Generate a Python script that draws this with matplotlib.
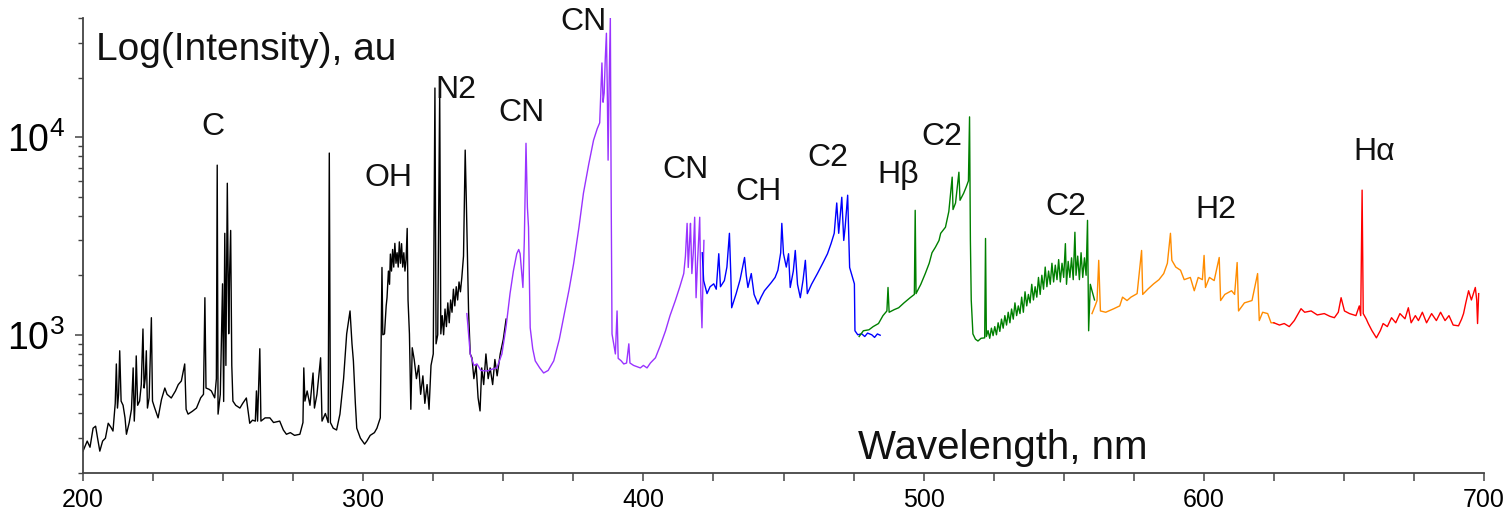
import matplotlib
matplotlib.use("Agg")
import matplotlib.pyplot as plt
from matplotlib.ticker import MultipleLocator, FixedLocator, FixedFormatter, LogLocator, NullFormatter

plt.rcParams['font.family'] = ['Liberation Sans', 'DejaVu Sans']

# ── spectrum segments (wavelength nm, intensity au) ──────────────────────────
wl_black = [200.0, 201.5, 202.5, 203.6, 204.5, 205.2, 206.0, 207.0, 208.0, 209.0,
            210.0, 210.7, 211.5, 211.9, 212.3, 212.7, 213.1, 213.6, 214.3, 215.0,
            215.5, 216.5, 217.3, 217.9, 218.3, 218.7, 219.0, 219.5, 220.2, 220.8,
            221.4, 221.8, 222.2, 222.6, 223.0, 223.6, 224.4, 224.8, 225.5, 226.8,
            228.0, 229.2, 230.0, 231.5, 233.0, 234.0, 235.1, 236.3, 236.8, 237.5,
            239.0, 240.5, 242.0, 243.0, 243.5, 243.9, 245.0, 245.8, 247.0, 247.6,
            247.9, 248.2, 249.0, 249.8, 250.2, 250.6, 251.0, 251.5, 252.0, 252.3,
            252.7, 253.1, 253.5, 254.5, 256.0, 257.0, 258.3, 259.5, 260.5, 261.5,
            261.9, 262.3, 263.1, 263.5, 265.0, 266.7, 268.0, 270.2, 271.5, 272.6,
            274.0, 275.5, 277.4, 278.5, 278.8, 279.2, 280.0, 281.0, 282.1, 282.6,
            283.5, 284.8, 285.3, 286.5, 287.5, 287.9, 288.3, 289.3, 290.5, 291.7,
            293.0, 294.1, 295.3, 296.0, 296.5, 297.2, 297.7, 299.0, 300.5, 301.3,
            302.5, 304.0, 304.9, 306.1, 306.7, 307.0, 307.6, 308.2, 308.5, 309.0,
            309.4, 309.7, 310.1, 310.5, 310.9, 311.3, 311.7, 312.1, 312.5, 312.9,
            313.3, 313.7, 314.1, 314.5, 314.9, 315.3, 315.7, 316.0, 316.5, 317.0,
            317.5, 318.2, 319.0, 319.8, 320.5, 321.3, 322.0, 322.8, 323.5, 324.2,
            325.0, 325.6, 326.0, 326.6, 327.3, 327.7, 328.2, 328.7, 329.2, 329.7,
            330.2, 330.7, 331.2, 331.7, 332.2, 332.7, 333.2, 333.7, 334.2, 334.7,
            335.2, 335.8, 336.4, 336.8, 337.6, 338.2, 338.8, 339.5, 340.3, 341.0,
            341.7, 342.3, 343.0, 343.8, 344.6, 345.3, 346.2, 347.0, 347.8, 348.9,
            350.0, 351.0]
int_black = [258, 290, 270, 337, 345, 300, 258, 290, 300, 357,
             340, 326, 450, 712, 426, 500, 830, 462, 440, 380,
             314, 360, 420, 680, 366, 500, 782, 440, 462, 560,
             1070, 538, 600, 830, 426, 480, 1220, 462, 430, 380,
             470, 538, 500, 479, 520, 560, 584, 712, 420, 397,
             410, 426, 480, 500, 1540, 538, 530, 520, 480, 600,
             7210, 397, 500, 1810, 460, 3260, 700, 5840, 1012, 2000,
             3370, 700, 462, 440, 426, 450, 479, 357, 370, 366,
             520, 366, 850, 366, 380, 380, 360, 366, 330, 314,
             320, 310, 314, 360, 680, 462, 520, 440, 641, 426,
             500, 765, 366, 400, 360, 8300, 360, 337, 330, 397,
             600, 1010, 1320, 900, 738, 450, 337, 300, 280, 290,
             310, 320, 337, 380, 2190, 1000, 1010, 1400, 1540, 2100,
             1800, 2560, 2100, 2700, 2200, 2900, 2300, 2600, 2200, 2950,
             2300, 2890, 2200, 2600, 2100, 2400, 3450, 1500, 1010, 420,
             860, 750, 600, 700, 500, 620, 450, 560, 420, 700,
             800, 17700, 900, 1000, 17300, 1010, 1250, 1000, 1350, 1100,
             1450, 1150, 1500, 1300, 1700, 1400, 1750, 1500, 1850, 1650,
             1950, 2500, 8590, 4790, 1320, 800, 765, 600, 700, 480,
             412, 680, 560, 800, 600, 680, 560, 750, 620, 800,
             950, 1200]

wl_purple = [337.0, 338.2, 339.5, 340.6, 342.0, 344.2, 346.0, 347.7, 349.5, 351.0,
             352.4, 353.6, 354.8, 355.5, 356.0, 357.0, 357.5, 358.1, 358.6, 359.0,
             359.6, 360.5, 361.4, 363.0, 364.4, 366.0, 368.0, 370.0, 371.5, 373.5,
             375.1, 377.0, 378.6, 380.5, 382.2, 383.5, 384.4, 385.2, 385.6, 386.0,
             386.4, 386.8, 387.1, 387.4, 387.8, 388.2, 388.5, 388.8, 389.4, 390.0,
             390.6, 391.0, 392.0, 393.0, 394.0, 394.8, 395.2, 396.5, 398.9, 400.0,
             401.3, 402.5, 404.3, 406.0, 407.9, 409.5, 411.4, 413.0, 414.4, 415.0,
             415.6, 416.0, 416.5, 416.8, 417.3, 417.8, 418.3, 418.8, 419.3, 420.1,
             420.5, 420.9, 421.3, 421.6]
int_purple = [1280, 800, 700, 712, 660, 656, 670, 680, 800, 1100,
              1615, 2100, 2570, 2700, 2570, 1735, 3000, 9300, 4420, 3500,
              1085, 850, 738, 680, 641, 660, 738, 950, 1220, 1700,
              2290, 3500, 5200, 7300, 9630, 11000, 11800, 23700, 15000, 16700,
              25000, 33500, 18000, 7640, 20000, 40000, 5000, 1010, 900, 800,
              1320, 760, 740, 712, 720, 900, 720, 700, 680, 700,
              680, 720, 765, 880, 1048, 1250, 1490, 1750, 2040, 2500,
              3660, 2190, 3000, 3660, 2040, 2600, 3930, 1540, 2300, 3930,
              1600, 1085, 2000, 3000]

wl_blue = [421.0, 421.5, 422.7, 423.8, 425.1, 426.0, 426.9, 427.5, 428.9, 429.8,
           430.7, 431.2, 431.5, 433.1, 434.5, 436.1, 436.7, 437.3, 438.5, 439.5,
           440.9, 442.0, 443.2, 444.4, 445.6, 447.0, 448.0, 449.0, 449.4, 450.0,
           451.0, 451.8, 452.4, 453.5, 454.2, 455.0, 456.0, 457.0, 457.8, 458.5,
           460.0, 462.1, 464.0, 465.7, 467.0, 468.1, 469.0, 469.7, 470.8, 471.5,
           472.0, 472.9, 473.6, 475.3, 475.5, 476.5, 477.9, 479.0, 480.0, 481.5,
           482.5, 483.5, 484.5]
int_blue = [2600, 1880, 1615, 1750, 1810, 1700, 2570, 1750, 1880, 2200,
            3260, 2000, 1370, 1615, 1900, 2460, 2000, 1735, 2040, 1600,
            1430, 1550, 1670, 1750, 1835, 1950, 2120, 2600, 3660, 2570,
            2200, 2570, 1735, 2100, 2670, 1800, 1540, 1900, 2380, 1615,
            1800, 2040, 2300, 2570, 2900, 3260, 4640, 3260, 4960, 3000,
            3500, 5080, 2190, 1810, 1048, 1000, 1012, 980, 1020, 1000,
            970, 1010, 995]

wl_green = [477.0, 478.5, 480.5, 482.0, 483.9, 485.5, 486.9, 487.3, 487.7, 489.5,
            491.1, 493.0, 495.2, 496.7, 497.0, 497.3, 499.0, 500.6, 502.0, 503.0,
            504.2, 505.5, 506.1, 507.8, 509.0, 510.2, 510.5, 511.4, 512.6, 513.0,
            514.3, 515.2, 516.0, 516.4, 516.7, 517.0, 517.6, 518.5, 519.4, 520.5,
            521.8, 522.1, 522.4, 523.0, 523.6, 524.2, 524.8, 525.4, 526.0, 526.6,
            527.2, 527.8, 528.4, 529.0, 529.6, 530.2, 530.8, 531.4, 532.0, 532.6,
            533.2, 533.8, 534.4, 535.0, 535.6, 536.2, 536.8, 537.4, 538.0, 538.6,
            539.2, 539.8, 540.4, 541.0, 541.6, 542.2, 542.8, 543.4, 544.0, 544.6,
            545.2, 545.8, 546.4, 547.0, 547.6, 548.2, 548.8, 549.4, 550.0, 550.6,
            551.0, 551.6, 552.2, 552.8, 553.4, 554.0, 554.4, 555.0, 555.6, 556.2,
            556.8, 557.4, 558.0, 558.5, 558.9, 559.5, 560.1, 561.0]
int_green = [980, 1048, 1060, 1100, 1140, 1250, 1320, 1735, 1300, 1340,
             1370, 1450, 1540, 1600, 4260, 1615, 1800, 2040, 2300, 2600,
             2770, 3000, 3260, 3500, 4200, 6270, 4300, 4640, 6640, 4790,
             5200, 5590, 6000, 12650, 3000, 1500, 1010, 950, 930, 960,
             965, 3070, 980, 1050, 960, 1080, 990, 1100, 1000, 1150,
             1040, 1200, 1080, 1250, 1120, 1300, 1150, 1350, 1200, 1450,
             1250, 1400, 1280, 1550, 1300, 1650, 1400, 1600, 1450, 1800,
             1500, 1750, 1550, 1950, 1600, 2000, 1700, 2200, 1750, 2100,
             1800, 2300, 1850, 2250, 1900, 2400, 1850, 2300, 1950, 2890,
             1800, 2350, 1950, 2450, 1900, 3300, 2000, 2500, 1900, 2600,
             1950, 2450, 2000, 3790, 1048, 1800, 1670, 1500]

wl_orange = [560.1, 561.2, 561.9, 562.5, 563.1, 565.0, 567.9, 570.0, 571.0, 572.6,
             574.0, 576.2, 577.8, 578.2, 580.0, 582.1, 584.0, 585.7, 587.0, 588.1,
             588.6, 590.0, 591.7, 593.0, 595.2, 596.6, 598.0, 599.5, 600.1, 600.6,
             602.0, 603.7, 605.5, 606.0, 607.5, 609.9, 611.0, 611.9, 612.4, 614.5,
             617.2, 619.2, 619.8, 621.0, 622.8, 624.0, 625.0]
int_orange = [1280, 1400, 1490, 2380, 1320, 1300, 1355, 1400, 1550, 1490,
              1550, 1615, 2670, 1600, 1700, 1810, 1900, 2040, 2300, 3260,
              2380, 2200, 2120, 1900, 1950, 1670, 1950, 1900, 2520, 1735,
              1950, 1880, 2460, 1490, 1600, 1670, 1600, 2320, 1320, 1450,
              1490, 2040, 1180, 1300, 1280, 1150, 1150]

wl_red = [625.0, 627.0, 628.7, 630.5, 632.3, 634.7, 636.0, 638.3, 640.5, 643.0,
          645.0, 646.6, 648.0, 649.0, 650.2, 652.0, 654.3, 655.5, 656.0, 656.5,
          656.9, 658.0, 658.7, 660.0, 661.6, 663.0, 664.0, 665.5, 667.0, 668.5,
          670.0, 671.8, 673.0, 674.0, 675.5, 676.6, 678.0, 679.5, 681.3, 683.0,
          684.5, 686.1, 687.5, 689.0, 690.9, 692.0, 692.7, 693.5, 694.5, 695.5,
          696.9, 697.4, 697.7, 698.1]
int_red = [1150, 1120, 1140, 1100, 1180, 1355, 1300, 1320, 1260, 1280,
           1240, 1220, 1300, 1540, 1320, 1280, 1250, 1400, 1250, 5390,
           1280, 1200, 1140, 1050, 965, 1050, 1140, 1100, 1220, 1150,
           1280, 1205, 1370, 1150, 1250, 1180, 1300, 1150, 1280, 1180,
           1300, 1180, 1250, 1120, 1110, 1200, 1280, 1450, 1670, 1500,
           1735, 1500, 1140, 1615]

# ── band labels ──────────────────────────────────────────────────────────────
label_text = ["C", "OH", "N2", "CN", "CN", "CN", "CH", "C2", "H\u03b2", "C2", "C2", "H2", "H\u03b1"]
label_wl   = [246.4, 308.9, 333.2, 356.4, 378.6, 415.0, 441.0, 466.0, 491.0, 506.4, 550.7, 604.3, 660.7]
label_int  = [11250, 6190, 17300, 13250, 38400, 6790, 5260, 7820, 6410, 10000, 4420, 4260, 8390]

# ── figure ───────────────────────────────────────────────────────────────────
fig = plt.figure(figsize=(15.09, 5.13), dpi=100)
ax = fig.add_axes([83 / 1509, 40 / 513, 1401 / 1509, 455 / 513])

segments = [
    (wl_black,  int_black,  "black"),
    (wl_purple, int_purple, "#9933ff"),
    (wl_blue,   int_blue,   "#0000ff"),
    (wl_green,  int_green,  "#008000"),
    (wl_orange, int_orange, "#ff8c00"),
    (wl_red,    int_red,    "#ff0000"),
]
for wl, inten, col in segments:
    ax.plot(wl, inten, color=col, lw=1.0)

ax.set_yscale("log")
ax.set_xlim(200, 700)
ax.set_ylim(200, 40000)

for t, x, y in zip(label_text, label_wl, label_int):
    ax.text(x, y, t, fontsize=23, ha="center", va="center", color="#111111")

ax.text(0.009, 0.908, "Log(Intensity), au", transform=ax.transAxes,
        fontsize=28, ha="left", va="baseline", color="#111111")
ax.text(0.553, 0.03, "Wavelength, nm", transform=ax.transAxes,
        fontsize=29, ha="left", va="baseline", color="#111111")

# axes styling
for side in ("top", "right"):
    ax.spines[side].set_visible(False)
for side in ("left", "bottom"):
    ax.spines[side].set_color("#444444")
    ax.spines[side].set_linewidth(1.3)

ax.xaxis.set_major_locator(MultipleLocator(100))
ax.xaxis.set_minor_locator(MultipleLocator(25))
ax.yaxis.set_major_locator(FixedLocator([1e3, 1e4]))
ax.yaxis.set_major_formatter(FixedFormatter([r"$\mathregular{10^3}$", r"$\mathregular{10^4}$"]))
ax.yaxis.set_minor_locator(LogLocator(base=10, subs=range(2, 10)))
ax.yaxis.set_minor_formatter(NullFormatter())

ax.tick_params(axis="x", which="both", direction="out", length=6, width=1.1,
               color="#444444", labelsize=18, pad=5)
ax.tick_params(axis="y", which="major", direction="out", length=6, width=1.1,
               color="#444444", labelsize=27, pad=7)
ax.tick_params(axis="y", which="minor", direction="out", length=3.5, width=1.0,
               color="#444444")

fig.savefig("out.png", dpi=100)
